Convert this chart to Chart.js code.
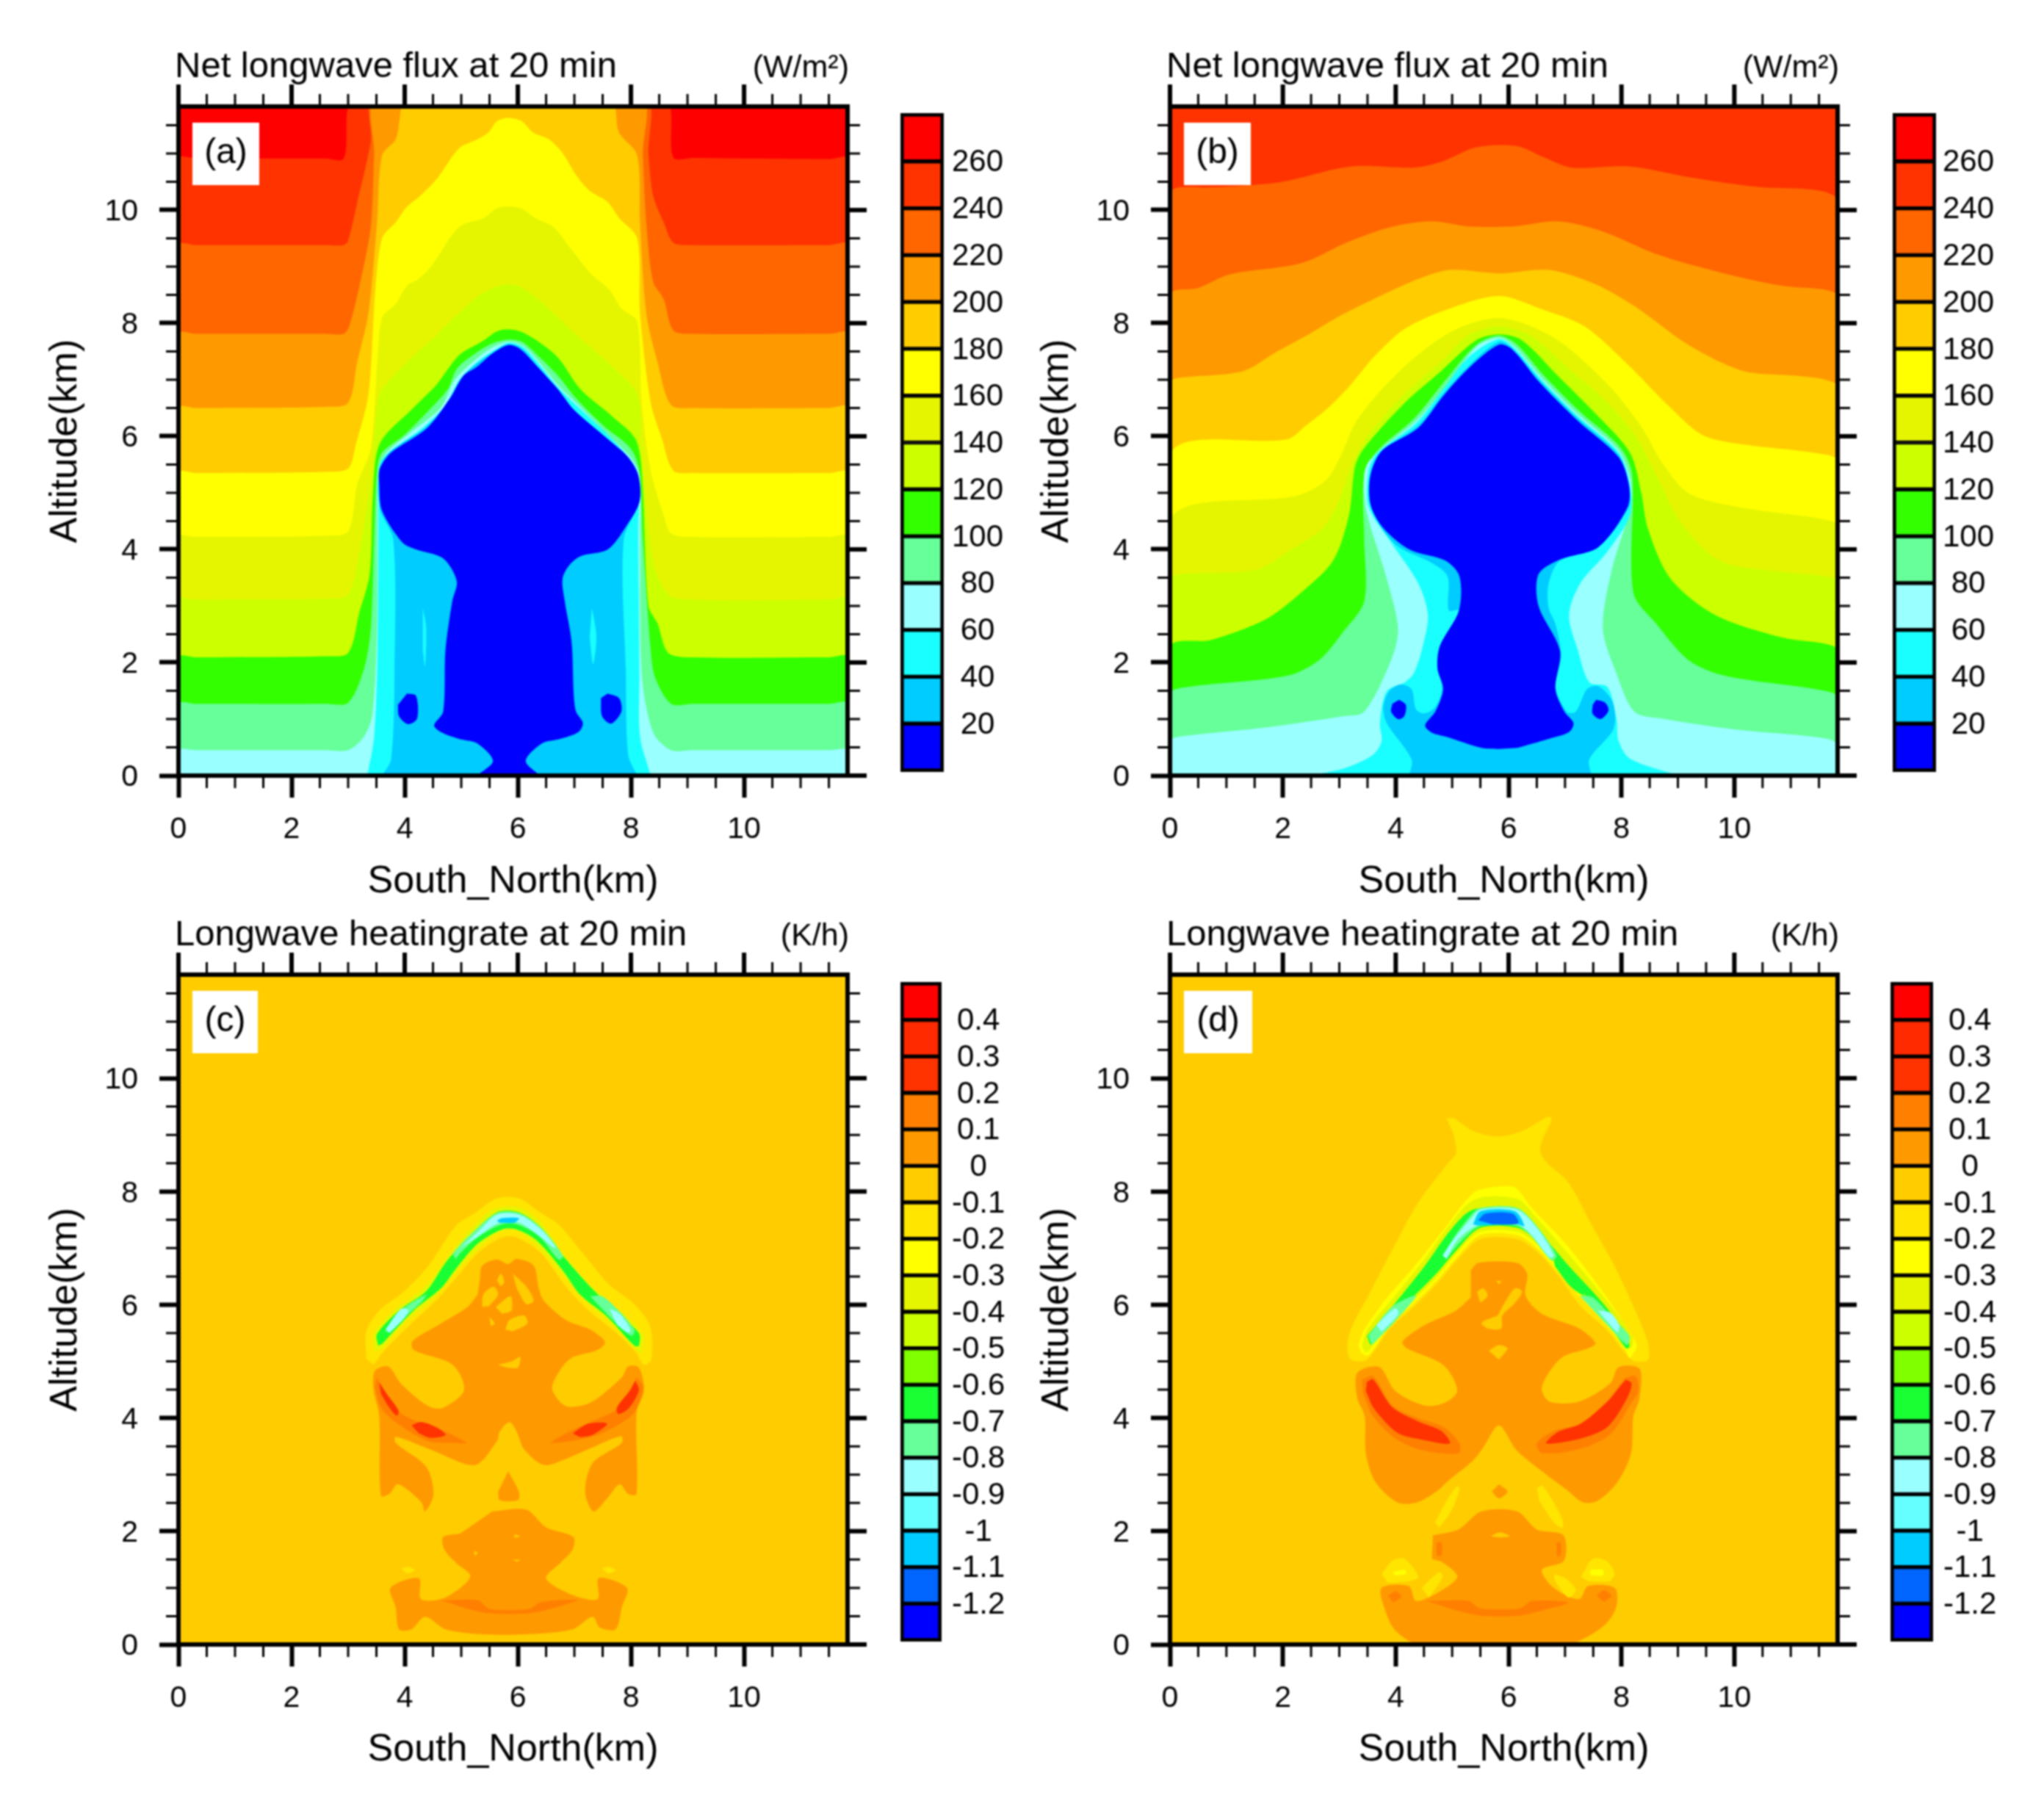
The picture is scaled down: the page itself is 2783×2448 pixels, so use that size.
<!DOCTYPE html>
<html><head><meta charset="utf-8">
<script src="https://cdn.jsdelivr.net/npm/chart.js@4"></script>
<style>html,body{margin:0;padding:0;background:#fff;width:2783px;height:2448px;overflow:hidden}canvas{position:absolute;display:block;filter:blur(0.8px)}</style>
</head><body>
<script>
/* tick values */
const majorTicks=[0,2,4,6,8,10];
const minorTicks=[0.5,1,1.5,2.5,3,3.5,4.5,5,5.5,6.5,7,7.5,8.5,9,9.5,10.5,11,11.5];
const fluxEdges=[0,20,40,60,80,100,120,140,160,180,200,220,240,260,280];
const fluxTicks=[20,40,60,80,100,120,140,160,180,200,220,240,260];
const fluxColors=['#0000ff','#00ccff','#19ffff','#99ffff','#66ff99','#33ff00','#ccff00','#e5f500','#ffff00','#ffcc00','#ff9900','#ff6600','#ff3300','#ff0000'];
const heatEdges=[-1.3,-1.2,-1.1,-1,-0.9,-0.8,-0.7,-0.6,-0.5,-0.4,-0.3,-0.2,-0.1,0,0.1,0.2,0.3,0.4,0.5];
const heatTicks=[-1.2,-1.1,-1,-0.9,-0.8,-0.7,-0.6,-0.5,-0.4,-0.3,-0.2,-0.1,0,0.1,0.2,0.3,0.4];
const heatColors=['#0000ff','#0066ff','#00ccff','#66ffff','#99ffff','#66ff99','#19ff33','#80ff00','#ccff00','#e5f500','#ffff00','#ffe500','#ffcc00','#ff9900','#ff8000','#ff3300','#ff2a00','#ff0000'];
const fullBox=[[0,0],[0,12],[12,12],[12,0]];

/* panel a: contour regions (km, km) */
const a260=[[0,0],[0,10.91],[0.3,10.91],[2.6,10.91],[2.92,10.91],[3.14,12],[8.56,12],[8.75,10.93],[9.1,10.92],[11.5,10.9],[11.9,10.9],[11.9,0]];
const a240=[[0,0],[0,9.38],[0.3,9.38],[2.6,9.38],[2.92,9.38],[3,9.46],[3.18,10.22],[3.4,11.21],[3.46,12],[8.23,12],[8.31,10.97],[8.39,10.26],[8.58,9.78],[8.75,9.42],[9.1,9.38],[11.5,9.38],[11.9,9.38],[11.9,0]];
const a220=[[0,0],[0,7.81],[0.3,7.81],[2.6,7.81],[2.92,7.81],[3.02,7.95],[3.2,8.66],[3.4,9.7],[3.46,10.97],[3.52,12],[8.16,12],[8.21,10.97],[8.27,9.78],[8.39,8.74],[8.58,8.42],[8.75,7.87],[9.1,7.81],[11.5,7.81],[11.9,7.81],[11.9,0]];
const a200=[[0,0],[0,6.5],[0.3,6.5],[2.6,6.52],[3,6.59],[3.16,7.31],[3.36,8.18],[3.51,9.78],[3.6,10.97],[3.84,11.25],[4.08,12],[7.61,12],[7.79,11.37],[8.11,10.97],[8.16,9.78],[8.27,8.18],[8.47,7.31],[8.71,6.55],[9.1,6.5],[11.5,6.5],[11.9,6.5],[11.9,0]];
const a180=[[0,0],[0,5.35],[0.3,5.35],[2.6,5.37],[3,5.43],[3.14,5.87],[3.36,6.75],[3.48,8.58],[3.6,9.5],[3.84,9.78],[4.04,10.06],[4.24,10.22],[4.56,10.54],[4.96,11.09],[5.28,11.25],[5.48,11.37],[5.63,11.57],[5.83,11.63],[6.07,11.57],[6.27,11.37],[6.55,11.25],[6.79,11.01],[7.03,10.62],[7.27,10.34],[7.59,10.14],[7.79,9.86],[8.11,9.5],[8.16,8.18],[8.35,6.59],[8.55,5.95],[8.75,5.39],[9.1,5.35],[11.5,5.35],[11.9,5.35],[11.9,0]];
const a160=[[0,0],[0,4.22],[0.3,4.22],[2.6,4.24],[3,4.32],[3.16,5.15],[3.4,5.79],[3.52,7.39],[3.6,8.1],[3.84,8.34],[4.04,8.66],[4.24,8.78],[4.48,9.02],[4.96,9.7],[5.4,9.86],[5.63,10.03],[5.83,10.06],[6.07,10.02],[6.31,9.86],[6.63,9.7],[6.95,9.3],[7.27,8.9],[7.63,8.58],[7.83,8.26],[8.11,8.03],[8.19,6.59],[8.35,5.39],[8.58,4.6],[8.71,4.28],[9.1,4.22],[11.5,4.22],[11.9,4.22],[11.9,0]];
const a140=[[0,0],[0,3.11],[0.3,3.11],[2.6,3.13],[3,3.2],[3.2,3.96],[3.4,5.23],[3.52,6.59],[3.6,6.83],[4.04,7.31],[4.48,7.71],[4.8,8.03],[5.28,8.46],[5.67,8.66],[5.99,8.66],[6.31,8.46],[6.71,8.1],[7.03,7.79],[7.67,7.23],[8.11,6.75],[8.19,5.79],[8.39,3.8],[8.66,3.2],[9.1,3.11],[11.5,3.11],[11.9,3.11],[11.9,0]];
const a120=[[0,0],[0,2.09],[0.3,2.09],[2.6,2.11],[3,2.17],[3.2,2.89],[3.38,3.56],[3.44,5],[3.56,5.87],[4.16,6.51],[4.56,6.91],[4.96,7.43],[5.36,7.67],[5.67,7.87],[5.99,7.87],[6.31,7.71],[6.71,7.39],[7.11,6.83],[7.67,6.35],[8.08,5.95],[8.19,5.39],[8.31,3],[8.47,2.69],[8.66,2.17],[9.1,2.09],[11.5,2.09],[11.9,2.09],[11.9,0]];
const a100=[[0,0],[0,1.27],[0.3,1.27],[2.6,1.27],[3,1.29],[3.28,1.89],[3.4,2.61],[3.46,4.2],[3.51,5.39],[3.6,5.71],[4,6.03],[4.4,6.43],[4.76,6.83],[4.92,7.19],[5.2,7.43],[5.52,7.63],[5.83,7.71],[6.07,7.67],[6.31,7.47],[6.71,7.07],[7.03,6.67],[7.51,6.19],[7.99,5.79],[8.15,5.39],[8.21,4.2],[8.35,2.21],[8.43,1.73],[8.71,1.27],[9.1,1.27],[11.5,1.27],[11.9,1.27],[11.9,0]];
const a80=[[0,0],[0,0.45],[0.3,0.45],[2.6,0.45],[3,0.45],[3.28,0.69],[3.43,1.09],[3.51,2.61],[3.52,4.76],[3.55,5.43],[3.68,5.71],[4.16,6.11],[4.64,6.51],[4.88,6.99],[5.2,7.31],[5.52,7.55],[5.83,7.67],[6.07,7.61],[6.31,7.39],[6.71,6.91],[7.03,6.59],[7.51,6.11],[7.99,5.63],[8.15,5.31],[8.16,4.2],[8.19,1.81],[8.39,0.77],[8.71,0.45],[9.1,0.45],[11.5,0.45],[11.9,0.45],[11.9,0]];
const a60=[[3.34,0],[3.46,0.69],[3.52,2.21],[3.54,5],[3.56,5.51],[3.76,5.75],[4.32,6.15],[4.72,6.55],[4.96,6.99],[5.28,7.31],[5.56,7.51],[5.83,7.65],[6.07,7.59],[6.31,7.35],[6.71,6.87],[7.03,6.55],[7.55,6.07],[7.99,5.59],[8.13,5.31],[8.13,4.2],[8.15,1.81],[8.16,0.69],[8.35,0]];
const a40=[[3.6,0],[3.76,0.29],[3.82,1.81],[3.8,4.16],[3.56,4.72],[3.55,5.39],[3.72,5.71],[4.36,6.15],[4.76,6.59],[5,7.03],[5.28,7.29],[5.56,7.48],[5.83,7.63],[6.07,7.55],[6.31,7.29],[6.71,6.81],[6.99,6.47],[7.55,5.99],[7.97,5.59],[8.13,5.27],[8.15,4.84],[7.87,4.16],[7.91,1.81],[7.95,0.37],[8.11,0]];
const aStreakL=[[4.32,2.97],[4.38,2.61],[4.36,1.93],[4.32,2.21]];
const aStreakR=[[7.31,2.97],[7.39,2.45],[7.33,1.97],[7.27,2.45]];
const a20=[[5.28,0],[5.56,0.26],[5.28,0.57],[4.96,0.65],[4.64,0.77],[4.52,0.89],[4.68,1.13],[4.72,2.21],[4.84,3.08],[4.92,3.44],[4.68,3.84],[4.2,4],[3.96,4.12],[3.6,4.68],[3.55,5.15],[3.56,5.43],[3.76,5.71],[4.4,6.15],[4.8,6.67],[5.04,7.07],[5.28,7.23],[5.56,7.47],[5.83,7.61],[6.03,7.55],[6.31,7.27],[6.71,6.83],[6.99,6.47],[7.59,5.95],[7.95,5.63],[8.13,5.31],[8.15,4.84],[7.91,4.4],[7.59,4],[7.11,3.88],[6.91,3.72],[6.79,3.48],[6.83,3.08],[6.95,2.37],[6.99,1.41],[7.03,1.13],[7.15,0.93],[7.07,0.77],[6.75,0.65],[6.43,0.57],[6.14,0.26],[6.39,0]];
const aBlobL=[[4.04,1.45],[4.2,1.41],[4.22,1.01],[4.06,0.91],[3.9,1.05],[3.88,1.25]];
const aBlobR=[[7.59,1.45],[7.79,1.37],[7.83,1.13],[7.65,0.92],[7.49,1.05],[7.47,1.37]];

/* panel b */
const b240=[[0,0],[0,10.3],[0.18,10.4],[0.73,10.4],[1.93,10.49],[3.2,10.77],[4.32,10.75],[4.8,10.85],[5.43,11.11],[6.15,11.13],[6.63,10.93],[7.11,10.75],[8.15,10.77],[9.26,10.57],[10.38,10.41],[11.57,10.33],[11.9,10.09],[11.9,0]];
const b220=[[0,0],[0,8.5],[0.1,8.58],[0.49,8.62],[1.05,8.86],[2.33,9.06],[3.12,9.42],[3.92,9.7],[4.64,9.8],[5.28,9.71],[6.07,9.71],[6.87,9.8],[7.67,9.62],[8.62,9.22],[9.74,8.9],[10.85,8.66],[11.65,8.58],[11.9,8.42],[11.9,0]];
const b200=[[0,0],[0,6.95],[0.14,7.03],[1.29,7.15],[1.85,7.47],[2.49,7.82],[2.96,8.1],[3.6,8.42],[4.4,8.78],[4.96,8.94],[5.83,8.88],[6.71,8.94],[7.51,8.7],[8.23,8.3],[9.18,7.62],[10.14,7.16],[11.09,7.07],[11.65,6.99],[11.9,6.83],[11.9,0]];
const b180=[[0,0],[0,5.67],[2.09,5.95],[2.41,6.19],[2.81,6.51],[3.2,6.91],[3.6,7.39],[4.16,7.9],[4.96,8.26],[5.83,8.48],[6.55,8.26],[7.35,7.94],[8.15,7.23],[8.78,6.59],[9.42,6.03],[10.06,5.87],[11.65,5.67],[11.9,5.51],[11.9,0]];
const b160=[[0,0],[0,4.52],[2.25,4.95],[2.77,5.23],[3.05,5.71],[3.28,6.23],[3.68,6.75],[4.24,7.31],[4.8,7.74],[5.28,7.98],[5.83,8.09],[6.31,7.98],[6.87,7.7],[7.35,7.31],[7.91,6.75],[8.39,6.11],[8.71,5.55],[9.18,5],[10.06,4.75],[11.65,4.52],[11.9,4.36],[11.9,0]];
const b140=[[0,0],[0,3.48],[0.18,3.56],[1.53,3.64],[2.09,3.96],[2.73,4.4],[3.05,5],[3.24,5.55],[3.52,6.03],[4.16,6.75],[4.8,7.31],[5.28,7.78],[5.83,7.94],[6.39,7.78],[7.03,7.23],[7.67,6.67],[8.23,6.03],[8.62,5.31],[9.02,4.52],[9.74,3.8],[10.85,3.6],[11.65,3.52],[11.9,3.4],[11.9,0]];
const b120=[[0,0],[0,2.28],[0.73,2.4],[1.69,2.76],[2.33,3.24],[2.89,3.8],[3.17,4.6],[3.28,5.47],[3.44,5.79],[4.16,6.59],[4.8,7.15],[5.43,7.7],[5.83,7.8],[6.23,7.7],[6.87,7.07],[7.51,6.43],[8.15,5.71],[8.35,5],[8.47,4.36],[8.87,3.48],[9.66,2.84],[10.85,2.44],[11.65,2.32],[11.9,2.17],[11.9,0]];
const b100=[[0,0],[0,1.45],[0.34,1.57],[2.09,1.77],[2.65,2.05],[3.05,2.52],[3.44,3.08],[3.44,4.2],[3.44,5.31],[3.68,5.75],[4.32,6.31],[4.88,6.99],[5.43,7.62],[5.83,7.78],[6.15,7.62],[6.63,7.07],[7.27,6.43],[7.99,5.79],[8.19,5.31],[8.21,3.24],[8.62,2.68],[9.18,2.05],[9.82,1.77],[11.65,1.49],[11.9,1.33],[11.9,0]];
const b80=[[0,0],[0,0.61],[0.18,0.69],[1.69,0.85],[3.05,1.05],[3.44,1.13],[3.92,2.05],[4.04,2.6],[3.84,3.48],[3.48,4.68],[3.44,5.31],[3.52,5.55],[3.76,5.79],[4.36,6.27],[4.88,6.87],[5.43,7.58],[5.83,7.74],[6.11,7.58],[6.59,7.03],[7.23,6.39],[7.95,5.75],[8.16,5.23],[8.16,4.75],[7.83,3.64],[7.67,2.6],[7.91,1.81],[8.23,1.13],[8.71,1.01],[10.06,0.81],[11.65,0.65],[11.9,0.49],[11.9,0]];
const b60=[[2.49,0],[3.12,0.14],[3.6,0.37],[3.75,0.61],[3.72,0.93],[3.84,1.49],[4.16,1.65],[4.32,1.81],[4.48,2.29],[4.57,2.84],[4.4,3.4],[3.92,4.12],[3.52,4.75],[3.52,5.39],[3.68,5.71],[4.36,6.23],[4.84,6.83],[5.28,7.39],[5.83,7.72],[6.11,7.55],[6.59,6.99],[7.23,6.35],[7.95,5.71],[8.15,5.15],[8.15,4.6],[7.75,3.96],[7.27,3.4],[7.07,2.84],[7.23,2.21],[7.43,1.65],[7.75,1.57],[7.91,1.01],[7.95,0.61],[8.15,0.3],[9.02,0]];
const b40=[[4.24,0],[4.28,0.29],[3.84,0.93],[3.78,1.21],[3.88,1.49],[4.08,1.61],[4.28,1.53],[4.36,1.17],[4.52,1.1],[4.7,1.21],[4.82,1.53],[4.74,1.97],[4.8,2.29],[5.12,2.92],[4.94,2.92],[4.92,3.52],[4.64,3.76],[4,4.08],[3.59,4.68],[3.55,5.31],[3.72,5.71],[4.4,6.19],[4.84,6.75],[5.32,7.27],[5.83,7.67],[6.07,7.55],[6.55,6.99],[7.23,6.31],[7.95,5.67],[8.13,5.15],[8.13,4.75],[7.59,4.04],[6.91,3.8],[6.71,3.4],[6.71,2.96],[6.83,2.68],[6.93,2.12],[6.83,1.57],[7.03,1.13],[7.19,1.13],[7.39,1.53],[7.59,1.58],[7.83,1.33],[7.89,1.01],[7.83,0.77],[7.43,0.29],[7.47,0]];
const b20=[[5.83,0.47],[5.52,0.49],[4.88,0.69],[4.64,0.76],[4.52,0.89],[4.7,1.13],[4.84,1.53],[4.74,1.89],[4.78,2.29],[5.12,2.92],[5.13,3.52],[4.88,3.8],[4.24,4],[3.76,4.4],[3.55,4.8],[3.55,5.31],[3.76,5.75],[4.4,6.15],[4.84,6.71],[5.32,7.23],[5.83,7.62],[6.07,7.53],[6.55,6.95],[7.23,6.27],[7.95,5.63],[8.13,5.15],[8.11,4.75],[7.59,4.04],[6.91,3.82],[6.53,3.56],[6.53,3],[6.91,2.21],[6.83,1.53],[6.99,1.13],[7.15,0.93],[7.07,0.77],[6.71,0.65],[6.15,0.49]];
const bBlobL=[[4.06,1.34],[4.18,1.25],[4.15,1.05],[4.04,1],[3.92,1.13],[3.94,1.27]];
const bBlobR=[[7.55,1.34],[7.71,1.29],[7.77,1.15],[7.63,1],[7.49,1.09],[7.49,1.25]];

/* panel c */
const cArch1=[[3.32,5.05],[3.32,5.53],[3.55,5.9],[3.99,6.24],[4.42,6.69],[4.9,7.39],[5.24,7.62],[5.63,7.88],[6.02,7.88],[6.41,7.62],[6.72,7.42],[7.15,6.91],[7.62,6.35],[8.06,6.01],[8.34,5.62],[8.36,5.03],[8.23,4.94],[8.08,5.17],[7.71,5.53],[7.25,5.9],[6.85,6.32],[6.41,6.91],[5.98,7.19],[5.72,7.19],[5.29,6.91],[4.9,6.46],[4.55,6.07],[4.12,5.67],[3.62,5.17],[3.45,4.94]];
const cArch2=[[3.46,5.17],[3.46,5.5],[3.81,5.9],[4.33,6.29],[4.81,6.91],[5.16,7.33],[5.59,7.7],[6.07,7.7],[6.41,7.45],[6.8,6.91],[7.28,6.35],[7.8,5.9],[8.21,5.48],[8.17,5.14],[8.08,5.22],[7.67,5.65],[7.19,6.07],[6.76,6.57],[6.33,7.05],[5.98,7.3],[5.72,7.3],[5.33,7.02],[4.9,6.57],[4.51,6.12],[3.99,5.67],[3.6,5.22]];
const cArch3=[[3.53,5.28],[3.51,5.48],[3.9,5.9],[4.38,6.24],[4.72,6.74],[5.11,7.17],[5.63,7.63],[6.02,7.63],[6.41,7.36],[6.76,6.91],[7.25,6.35],[7.71,5.9],[8.14,5.5],[8.14,5.28],[8.06,5.28],[7.58,5.79],[7.1,6.18],[6.8,6.6],[6.33,7.14],[5.98,7.33],[5.72,7.33],[5.29,7.08],[4.9,6.63],[4.64,6.29],[4.16,5.9],[3.6,5.31]];
const cGreenL=[[3.64,5.5],[3.94,5.9],[4.38,6.18],[4.29,6.04],[3.9,5.7]];
const cGreenT=[[4.85,6.91],[5.11,7.19],[5.63,7.62],[6.02,7.62],[6.41,7.36],[6.8,6.86],[6.72,6.8],[6.37,7.22],[5.98,7.42],[5.72,7.42],[5.29,7.19],[4.98,6.91],[4.9,6.8]];
const cGreenR=[[7.28,6.15],[7.49,6.15],[7.75,5.93],[8.06,5.56],[8.01,5.45],[7.62,5.79]];
const cPaleT=[[4.98,7],[5.29,7.28],[5.63,7.59],[6.02,7.59],[6.41,7.33],[6.67,7.02],[6.65,7],[6.37,7.22],[6.02,7.45],[5.68,7.45],[5.24,7.17]];
const cPaleL=[[3.66,5.56],[3.94,5.93],[4.07,5.9],[3.99,5.76],[3.73,5.5]];
const cPaleR=[[7.62,5.93],[7.8,5.84],[7.99,5.56],[7.95,5.5],[7.75,5.65]];
const cBlueT=[[5.63,7.48],[5.72,7.53],[6.02,7.53],[5.94,7.45],[5.68,7.45]];
const cOrange=[[5.33,6.46],[5.37,6.69],[5.63,6.8],[5.83,6.72],[5.98,6.81],[6.28,6.69],[6.37,6.29],[6.46,6.07],[6.85,5.73],[7.28,5.56],[7.54,5.34],[7.41,5.2],[6.93,5.05],[6.67,4.72],[6.61,4.49],[6.85,4.21],[7.28,4.27],[7.84,4.72],[7.95,4.91],[8.14,4.89],[8.23,4.49],[8.1,4.1],[8.1,2.66],[7.95,2.66],[7.8,2.83],[7.58,2.58],[7.34,2.35],[7.19,2.69],[7.32,3.2],[7.84,3.56],[7.82,3.68],[7.25,3.45],[6.85,3.28],[6.46,3.17],[6.11,3.45],[5.98,3.76],[5.85,3.93],[5.68,3.76],[5.63,3.59],[5.24,3.17],[4.51,3.42],[3.84,3.67],[3.84,3.56],[4.38,3.14],[4.51,2.66],[4.36,2.35],[4.29,2.52],[3.88,2.83],[3.73,2.66],[3.58,2.63],[3.55,4.04],[3.45,4.49],[3.47,4.83],[3.71,4.91],[3.94,4.6],[4.42,4.21],[4.68,4.18],[5.05,4.49],[4.85,4.94],[4.16,5.2],[4.14,5.36],[4.64,5.67],[5.11,5.96],[5.29,6.18]];
const cHole1=[[5.63,6.43],[5.7,6.55],[5.76,6.4],[5.7,6.32]];
const cHole2=[[5.37,5.96],[5.39,6.18],[5.57,6.32],[5.65,6.18],[5.5,5.98]];
const cHole3=[[5.61,5.96],[5.87,6.15],[5.89,5.9],[5.72,5.84]];
const cHole4=[[5.91,6.55],[6.15,6.32],[6.28,6.07],[6.15,6.01],[5.98,6.29]];
const cHole5=[[5.78,5.56],[5.85,5.73],[6.11,5.81],[6.17,5.67],[5.91,5.53]];
const cHole6=[[5.65,4.94],[5.89,5],[6.04,5.08],[6,4.89],[5.81,4.89]];
const cHole7=[[5.5,5.79],[5.59,5.67],[5.52,5.62]];
const cCresL=[[3.51,4.72],[3.77,4.21],[4.16,3.96],[4.72,3.76],[5.09,3.56],[4.85,3.56],[4.42,3.59],[3.99,3.82],[3.6,4.15],[3.47,4.55]];
const cCresR=[[8.1,4.72],[8.22,4.55],[8.06,4.1],[7.67,3.82],[7.25,3.65],[6.59,3.56],[6.85,3.73],[7.28,3.93],[7.75,4.15],[7.97,4.49]];
const cRed1=[[3.55,4.63],[3.68,4.43],[3.89,4.13],[3.86,4.04],[3.71,4.21],[3.58,4.43]];
const cRed2=[[4.12,3.87],[4.29,3.93],[4.59,3.82],[4.72,3.7],[4.46,3.65],[4.25,3.73]];
const cRed3=[[8.08,4.66],[8.14,4.49],[7.97,4.18],[7.78,4.07],[7.75,4.18],[7.99,4.49]];
const cRed4=[[6.97,3.73],[7.25,3.9],[7.58,3.9],[7.32,3.7],[7.1,3.66]];
const cNose=[[5.83,3.06],[6.02,2.69],[6,2.55],[5.68,2.55],[5.65,2.69]];
const cChin=[[5.55,2.35],[6.15,2.38],[6.5,2.07],[6.98,1.9],[6.97,1.68],[6.76,1.45],[6.5,1.17],[6.93,0.89],[7.41,0.8],[7.43,1.17],[7.93,1],[7.84,0.66],[7.73,0.27],[7.45,0.3],[7.32,0.49],[6.97,0.27],[6.15,0.18],[5.37,0.18],[4.72,0.27],[4.36,0.49],[4.12,0.27],[3.9,0.27],[3.84,0.66],[3.75,1],[4.25,1.17],[4.29,0.8],[4.72,0.83],[5.16,1.2],[4.9,1.45],[4.7,1.68],[4.68,1.9],[4.98,1.96]];
const cLip=[[4.64,0.78],[5.29,0.78],[5.5,0.63],[6.2,0.63],[6.41,0.75],[7.06,0.79],[6.8,0.69],[6.2,0.55],[5.5,0.55],[5.11,0.63]];
const cSpotL=[[3.94,1.34],[4.07,1.37],[4.18,1.31],[4.05,1.25]];
const cSpotR=[[7.49,1.34],[7.62,1.37],[7.73,1.31],[7.6,1.25]];
const cDot1=[[5.22,1.65],[5.29,1.62],[5.24,1.56]];
const cDot2=[[5.94,1.95],[6.04,1.91],[5.94,1.88]];
const cDot3=[[5.91,1.5],[6.04,1.49],[5.98,1.46]];

/* panel d */
const dArch1=[[4.9,9.29],[5.03,9.29],[5.37,9.07],[5.81,8.97],[6.24,9.07],[6.72,9.33],[6.76,9.26],[6.61,8.94],[6.56,8.71],[6.67,8.52],[7.06,8.16],[7.45,7.45],[7.88,6.68],[8.27,5.84],[8.47,5.32],[8.47,5.03],[8.23,5],[8.08,5.13],[7.71,5.58],[7.28,5.97],[6.85,6.55],[6.5,6.94],[6.15,7.16],[5.5,7.16],[5.11,6.81],[4.72,6.36],[4.33,5.97],[3.9,5.58],[3.49,5.03],[3.21,5.03],[3.14,5.23],[3.21,5.58],[3.55,6.23],[3.99,7.07],[4.42,7.84],[4.94,8.52],[5.07,8.68],[5.03,9]];
const dArch2=[[3.34,5.29],[3.42,5.52],[3.77,6.03],[4.33,6.68],[4.85,7.33],[5.37,7.97],[5.68,8.07],[6.11,8.07],[6.41,7.71],[7.02,7.07],[7.67,6.23],[8.19,5.45],[8.27,5.26],[8.14,5.06],[8.08,5.19],[7.67,5.71],[7.25,6.16],[6.85,6.61],[6.5,7],[6.15,7.23],[5.5,7.23],[5.11,6.87],[4.72,6.42],[4.33,6.03],[3.9,5.64],[3.51,5.1],[3.38,5.16]];
const dArch3=[[3.4,5.29],[3.51,5.58],[3.99,6.16],[4.51,6.81],[4.98,7.45],[5.42,7.87],[6.15,7.87],[6.46,7.58],[7.02,6.94],[7.67,6.16],[8.19,5.45],[8.19,5.26],[8.08,5.23],[7.67,5.77],[7.25,6.23],[6.85,6.68],[6.5,7.07],[6.15,7.29],[5.5,7.29],[5.11,6.94],[4.72,6.48],[4.33,6.1],[3.9,5.71],[3.53,5.19],[3.45,5.16]];
const dArch4=[[3.49,5.45],[3.99,6.03],[4.51,6.68],[4.98,7.33],[5.37,7.68],[6.15,7.68],[6.46,7.39],[7.02,6.74],[7.67,6.03],[8.1,5.45],[8.14,5.26],[8.08,5.23],[7.67,5.81],[7.25,6.29],[6.85,6.74],[6.5,7.13],[6.15,7.36],[5.5,7.36],[5.11,7],[4.72,6.55],[4.33,6.16],[3.9,5.77],[3.55,5.29]];
const dMintL=[[3.51,5.45],[3.94,5.97],[4.36,6.16],[3.99,5.71],[3.58,5.29]];
const dMintR=[[7.26,6.16],[7.49,6.13],[7.84,5.77],[8.14,5.45],[8.1,5.29],[7.75,5.64]];
const dMintT=[[4.77,6.74],[5.03,7.19],[5.33,7.58],[5.5,7.71],[6.15,7.71],[6.5,7.39],[6.85,6.87],[6.76,6.78],[6.41,7.2],[6.15,7.39],[5.5,7.39],[5.11,7.07],[4.85,6.74]];
const dGreenL=[[4.25,6.23],[4.77,6.87],[4.9,6.81],[4.51,6.36],[4.29,6.16]];
const dGreenR=[[6.8,6.81],[7.25,6.32],[7.34,6.16],[7.1,6.32],[6.82,6.68]];
const dPaleL=[[3.66,5.64],[3.99,5.94],[4.05,5.84],[3.75,5.52]];
const dPaleR=[[7.58,5.9],[7.8,5.86],[7.96,5.64],[7.93,5.5]];
const dPaleT=[[4.83,6.87],[5.03,7.16],[5.33,7.52],[5.5,7.68],[6.15,7.68],[6.5,7.36],[6.8,6.87],[6.72,6.84],[6.41,7.23],[6.15,7.42],[5.5,7.42],[5.11,7.16],[4.9,6.81]];
const dSky=[[5.37,7.42],[5.5,7.65],[6.11,7.65],[6.28,7.39],[6.15,7.42],[5.46,7.4]];
const dBlue=[[5.46,7.49],[5.59,7.61],[6.07,7.61],[6.17,7.44],[5.72,7.42]];
const dOrange=[[5.33,6.61],[5.46,6.74],[6.15,6.74],[6.33,6.55],[6.3,6.16],[6.59,5.84],[7.25,5.58],[7.54,5.32],[7.41,5.23],[6.93,5.06],[6.59,4.55],[6.72,4.29],[7.25,4.29],[7.8,4.61],[7.95,4.9],[8.32,4.87],[8.32,4.35],[8.21,4.03],[8.17,3.38],[7.93,2.87],[7.58,2.54],[7.32,2.51],[7.02,2.74],[6.67,3],[6.15,3.42],[5.83,3.87],[5.55,3.48],[5.37,3.25],[4.94,2.9],[4.72,2.7],[4.38,2.51],[4.03,2.51],[3.64,2.87],[3.47,3.38],[3.45,4.03],[3.32,4.35],[3.32,4.8],[3.71,4.9],[3.99,4.48],[4.51,4.22],[4.85,4.26],[5.09,4.48],[4.85,4.93],[4.2,5.23],[4.12,5.35],[4.51,5.64],[5.07,5.9],[5.33,6.13]];
const dHole1=[[5.44,6.23],[5.55,6.29],[5.63,6.16],[5.5,6.03]];
const dHole2=[[5.89,5.97],[6.11,6.29],[6.24,6.23],[6.11,6.03],[5.89,5.81],[5.87,5.58],[5.63,5.58],[5.52,5.68],[5.81,5.81]];
const dHole3=[[5.65,5.19],[5.83,5.29],[5.98,5.23],[5.83,5.03]];
const dHole4=[[5.78,6.42],[5.87,6.42],[5.83,6.36]];
const dCresL=[[3.4,4.68],[3.6,4.74],[3.94,4.22],[4.42,3.99],[4.85,3.84],[5.13,3.55],[5.11,3.38],[4.51,3.42],[3.99,3.64],[3.6,4.03],[3.42,4.42]];
const dCresR=[[8.06,4.71],[8.25,4.74],[8.3,4.48],[8.19,4.29],[7.8,3.71],[7.25,3.45],[6.59,3.38],[6.5,3.55],[6.8,3.77],[7.28,3.9],[7.75,4.29]];
const dRedL=[[3.49,4.64],[3.6,4.68],[3.94,4.19],[4.42,3.93],[4.81,3.77],[4.96,3.55],[4.51,3.61],[4.03,3.74],[3.62,4.16],[3.47,4.48]];
const dRedR=[[8.08,4.68],[8.18,4.61],[8.1,4.35],[7.75,3.84],[7.28,3.64],[6.67,3.55],[6.85,3.74],[7.28,3.9],[7.75,4.29],[7.99,4.58]];
const dNose=[[5.83,2.83],[5.98,2.7],[5.83,2.58],[5.7,2.7]];
const dChin=[[4.66,1.93],[5.11,2.03],[5.52,2.35],[6.15,2.35],[6.5,2.03],[6.97,1.93],[6.98,1.48],[6.59,1.32],[6.8,1],[7.25,0.8],[7.41,1.03],[7.88,1],[7.91,0.67],[7.71,0.35],[7.25,0.06],[7.02,0],[4.42,0],[3.99,0.25],[3.79,0.67],[3.75,1],[4.23,1.03],[4.36,0.77],[4.72,0.9],[5.09,1.19],[4.85,1.44],[4.64,1.51]];
const dLip=[[4.55,0.77],[5.29,0.77],[5.5,0.64],[6.2,0.64],[6.41,0.77],[7.06,0.74],[6.59,0.6],[6.2,0.51],[5.5,0.51],[5.07,0.6]];
const dOvalL=[[3.86,0.86],[3.99,0.94],[4.1,0.85],[3.96,0.74]];
const dOvalR=[[7.56,0.86],[7.69,0.96],[7.82,0.86],[7.69,0.75]];
const dRectL=[[4.72,1.8],[4.81,1.8],[4.81,1.57],[4.72,1.57]];
const dRectR=[[6.85,1.8],[6.92,1.8],[6.92,1.57],[6.85,1.57]];
const dChinHole=[[5.68,1.91],[5.85,1.98],[6.02,1.91],[5.85,1.89]];
const dCheekL=[[4.7,2.16],[4.9,2.54],[5.09,2.8],[5.13,2.74],[4.98,2.35],[4.77,2.06]];
const dCheekR=[[6.5,2.77],[6.61,2.8],[6.95,2.22],[6.95,2.06],[6.8,2.16],[6.54,2.54]];
const dJawL=[[3.75,1.25],[3.94,1.48],[4.16,1.51],[4.4,1.19],[4.25,1.12],[3.86,1.09]];
const dJawR=[[7.28,1.19],[7.49,1.51],[7.73,1.48],[7.88,1.25],[7.78,1.12],[7.41,1.12]];
const dMidL=[[4.46,1],[4.77,1.28],[4.83,1.19],[4.59,0.83]];
const dMidR=[[6.8,1.25],[7.02,1.16],[7.19,0.96],[7.06,0.83],[6.82,1.12]];
const dGlowL=[[3.94,1.28],[4.16,1.32],[4.18,1.25],[3.99,1.22]];
const dGlowR=[[7.45,1.32],[7.67,1.32],[7.67,1.22],[7.45,1.22]];

const bandsA=[[fullBox,13],[a260,12],[a240,11],[a220,10],[a200,9],[a180,8],[a160,7],[a140,6],[a120,5],[a100,4],[a80,3],[a60,2],[a40,1],[aStreakL,2],[aStreakR,2],[a20,0],[aBlobL,0],[aBlobR,0]];
const bandsB=[[fullBox,12],[b240,11],[b220,10],[b200,9],[b180,8],[b160,7],[b140,6],[b120,5],[b100,4],[b80,3],[b60,2],[b40,1],[b20,0],[bBlobL,0],[bBlobR,0]];
const bandsC=[[fullBox,12],[cArch1,11],[cArch2,9],[cArch3,6],[cGreenL,5],[cGreenT,5],[cGreenR,5],[cPaleT,4],[cPaleL,4],[cPaleR,4],[cBlueT,2],[cOrange,13],[cHole1,12],[cHole2,12],[cHole3,12],[cHole4,12],[cHole5,12],[cHole6,12],[cHole7,12],[cCresL,14],[cCresR,14],[cRed1,15],[cRed2,15],[cRed3,15],[cRed4,15],[cNose,13],[cChin,13],[cLip,14],[cSpotL,11],[cSpotR,11],[cDot1,12],[cDot2,12],[cDot3,12]];
const bandsD=[[fullBox,12],[dArch1,11],[dArch2,10],[dArch3,9],[dArch4,6],[dMintL,5],[dMintR,5],[dMintT,5],[dGreenL,6],[dGreenR,6],[dPaleL,4],[dPaleR,4],[dPaleT,4],[dSky,2],[dBlue,1],[dOrange,13],[dHole1,12],[dHole2,12],[dHole3,12],[dHole4,12],[dCresL,14],[dCresR,14],[dRedL,15],[dRedR,15],[dNose,13],[dChin,13],[dLip,14],[dOvalL,14],[dOvalR,14],[dRectL,14],[dRectR,14],[dChinHole,12],[dCheekL,11],[dCheekR,11],[dJawL,11],[dJawR,11],[dMidL,11],[dMidR,11],[dGlowL,10],[dGlowR,10]];

const FONT='"Liberation Sans", Arial, sans-serif';
const AXIS_MAX=11.83;

function addCanvas(left,top,w,h){
  const c=document.createElement('canvas');
  c.width=w;c.height=h;c.style.left=left+'px';c.style.top=top+'px';c.style.width=w+'px';c.style.height=h+'px';
  document.body.appendChild(c);return c;
}
function panel(cfg){
  const canvas=addCanvas(cfg.x,cfg.y,1200,1192);
  const datasets=cfg.bands.map(([pts,ci],i)=>({
    data:pts.map(([x,y])=>({x,y})),backgroundColor:cfg.colors[ci],borderWidth:0,pointRadius:0,
    showLine:true,fill:'shape',tension:0.3,order:cfg.bands.length-i
  }));
  const framePlugin={id:'frame',afterDraw(chart){
    const c=chart.ctx,A=chart.chartArea,sx=chart.scales.x,sy=chart.scales.y;
    c.save();c.strokeStyle='#000';c.lineCap='butt';
    c.lineWidth=3;c.beginPath();
    for(const v of minorTicks){const p=sx.getPixelForValue(v);c.moveTo(p,A.bottom);c.lineTo(p,A.bottom+17);c.moveTo(p,A.top);c.lineTo(p,A.top-17);}
    for(const v of minorTicks){const p=sy.getPixelForValue(v);c.moveTo(A.left,p);c.lineTo(A.left-17,p);c.moveTo(A.right,p);c.lineTo(A.right+17,p);}
    c.stroke();
    c.lineWidth=6;c.beginPath();
    for(const v of majorTicks){const p=sx.getPixelForValue(v);c.moveTo(p,A.top);c.lineTo(p,A.top-30);const q=sy.getPixelForValue(v);c.moveTo(A.right,q);c.lineTo(A.right+26,q);}
    c.stroke();
    c.lineWidth=6;c.strokeRect(A.left,A.top,A.right-A.left,A.bottom-A.top);
    c.fillStyle='#fff';c.fillRect(A.left+19,A.top+22,cfg.boxW,85);
    c.fillStyle='#000';c.textBaseline='middle';c.textAlign='center';c.font='48px '+FONT;
    c.fillText(cfg.letter,A.left+19+cfg.boxW/2,A.top+22+42);
    c.textAlign='left';c.font='49px '+FONT;c.fillText(cfg.title,A.left-5,A.top-54);
    c.textAlign='right';c.font='43px '+FONT;c.fillText(cfg.unit,A.right+2,A.top-52);
    c.restore();
  }};
  new Chart(canvas,{type:'scatter',data:{datasets},plugins:[framePlugin],options:{
    responsive:false,animation:false,events:[],devicePixelRatio:1,
    layout:{padding:{top:105,right:cfg.rp,left:0,bottom:0}},
    plugins:{legend:{display:false},tooltip:{enabled:false},title:{display:false}},
    scales:{
      x:{type:'linear',min:0,max:AXIS_MAX,
        afterBuildTicks(s){s.ticks=majorTicks.map(v=>({value:v}));},
        afterFit(s){s.height=cfg.xh;s.paddingLeft=0;s.paddingRight=0;},
        ticks:{font:{family:FONT,size:41},color:'#000',padding:19,maxRotation:0,autoSkip:false,callback:v=>String(v)},
        grid:{drawOnChartArea:false,drawTicks:true,tickLength:30,tickWidth:6,tickColor:'#000'},
        border:{display:false},
        title:{display:true,text:'South_North(km)',color:'#000',font:{family:FONT,size:52},padding:{top:0,bottom:0}}},
      y:{type:'linear',min:0,max:AXIS_MAX,
        afterBuildTicks(s){s.ticks=majorTicks.map(v=>({value:v}));},
        afterFit(s){s.width=243;s.paddingTop=0;s.paddingBottom=0;},
        ticks:{font:{family:FONT,size:41},color:'#000',padding:29,autoSkip:false,labelOffset:3,callback:v=>String(v)},
        grid:{drawOnChartArea:false,drawTicks:true,tickLength:26,tickWidth:6,tickColor:'#000'},
        border:{display:false},
        title:{display:true,text:'Altitude(km)',color:'#000',font:{family:FONT,size:52},padding:{top:58,bottom:0}}}
    }}});
}
function colorbar(cfg){
  const canvas=addCanvas(cfg.x,cfg.y,cfg.w,cfg.h);
  const datasets=cfg.colors.map((col,i)=>({
    data:[[cfg.edges[i],cfg.edges[i+1]]],backgroundColor:col,borderColor:'#000',borderWidth:3,borderSkipped:false,
    barPercentage:1,categoryPercentage:1,grouped:false
  }));
  const fr={id:'cbframe',afterDraw(chart){const c=chart.ctx,A=chart.chartArea;c.save();c.strokeStyle='#000';c.lineWidth=4;c.strokeRect(A.left,A.top,A.right-A.left,A.bottom-A.top);c.restore();}};
  new Chart(canvas,{type:'bar',data:{labels:[''],datasets},plugins:[fr],options:{
    responsive:false,animation:false,events:[],devicePixelRatio:1,
    layout:{padding:{left:cfg.pl,top:cfg.pt,bottom:cfg.pb,right:0}},
    plugins:{legend:{display:false},tooltip:{enabled:false}},
    scales:{
      x:{display:false},
      y:{type:'linear',position:'right',min:cfg.edges[0],max:cfg.edges[cfg.edges.length-1],
        afterBuildTicks(s){s.ticks=cfg.ticks.map(v=>({value:v}));},
        afterFit(s){s.width=cfg.axisW;s.paddingTop=0;s.paddingBottom=0;},
        grid:{display:false},border:{display:false},
        ticks:{font:{family:FONT,size:42},color:'#000',padding:cfg.tp,crossAlign:'center',autoSkip:false,labelOffset:2,callback:v=>String(v)}}
    }}});
}
const ROW2=1182,COL2=1350;
panel({x:0,y:40,rp:46,xh:176,bands:bandsA,colors:fluxColors,letter:'(a)',boxW:91,title:'Net longwave flux at 20 min',unit:'(W/m²)'});
panel({x:COL2,y:40,rp:48,xh:176,bands:bandsB,colors:fluxColors,letter:'(b)',boxW:91,title:'Net longwave flux at 20 min',unit:'(W/m²)'});
panel({x:0,y:40+ROW2,rp:46,xh:175,bands:bandsC,colors:heatColors,letter:'(c)',boxW:89,title:'Longwave heatingrate at 20 min',unit:'(K/h)'});
panel({x:COL2,y:40+ROW2,rp:48,xh:175,bands:bandsD,colors:heatColors,letter:'(d)',boxW:93,title:'Longwave heatingrate at 20 min',unit:'(K/h)'});
colorbar({x:1200,y:130,w:200,h:940,pl:28,pt:26,pb:21,axisW:117,tp:5,edges:fluxEdges,ticks:fluxTicks,colors:fluxColors});
colorbar({x:2551,y:130,w:200,h:940,pl:28,pt:26,pb:21,axisW:117,tp:3,edges:fluxEdges,ticks:fluxTicks,colors:fluxColors});
colorbar({x:1200,y:1310,w:200,h:950,pl:28,pt:29,pb:27,axisW:120,tp:8,edges:heatEdges,ticks:heatTicks,colors:heatColors});
colorbar({x:2548,y:1310,w:200,h:950,pl:28,pt:29,pb:27,axisW:118,tp:8,edges:heatEdges,ticks:heatTicks,colors:heatColors});
</script>
</body></html>
